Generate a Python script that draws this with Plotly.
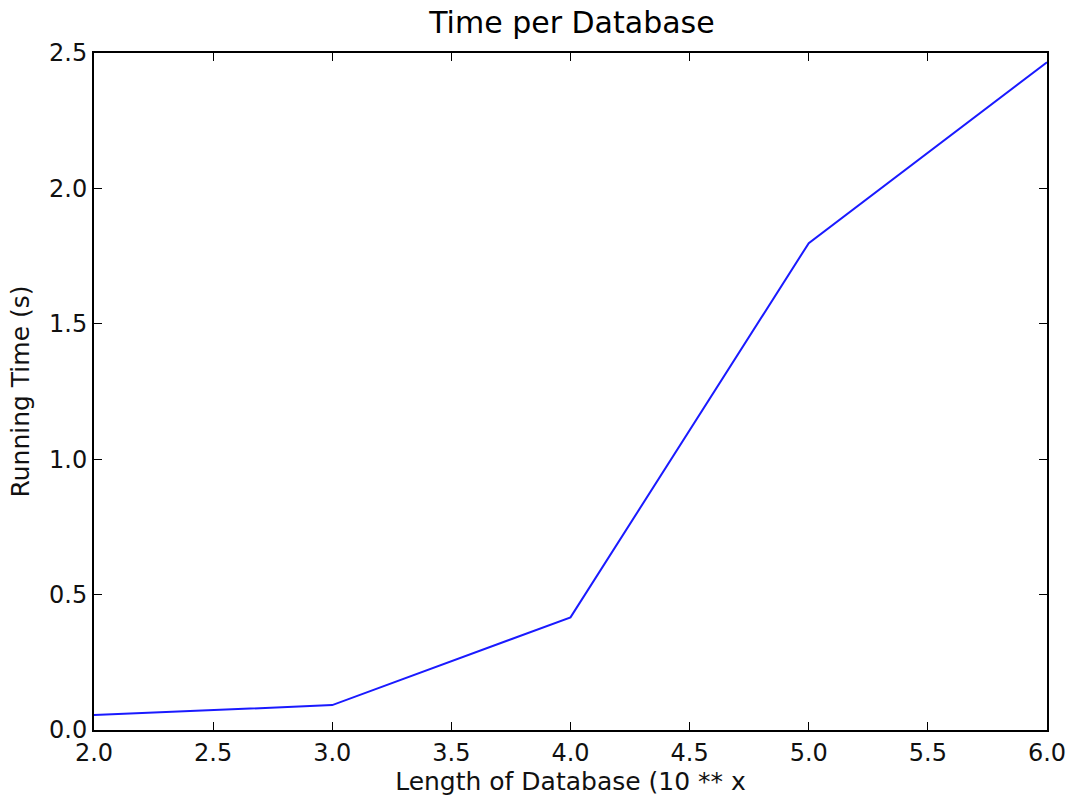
import plotly.graph_objects as go

x_vals = [2.0, 3.0, 4.0, 5.0, 6.0]
y_vals = [0.055, 0.092, 0.416, 1.798, 2.466]
x_ticks = [2.0, 2.5, 3.0, 3.5, 4.0, 4.5, 5.0, 5.5, 6.0]
y_ticks = [0.0, 0.5, 1.0, 1.5, 2.0, 2.5]

fig = go.Figure()
fig.add_trace(go.Scatter(x=x_vals, y=y_vals, mode="lines",
                         line=dict(color="#1a1aff", width=2), showlegend=False))

font = "DejaVu Sans, sans-serif"
fig.update_layout(
    width=1073, height=797, autosize=False,
    margin=dict(l=94, r=26, t=53, b=67, autoexpand=False),
    plot_bgcolor="white", paper_bgcolor="white",
    title=dict(text="Time per Database", x=0.533, xanchor="center", y=0.972, yanchor="middle",
               font=dict(family=font, size=30, color="black")),
    font=dict(family=font, color="black"),
)
fig.update_xaxes(range=[2.0, 6.0], tickvals=x_ticks, ticktext=[f"{v:.1f}" for v in x_ticks],
                 ticks="inside", ticklen=8, tickwidth=1, tickcolor="black", automargin=False,
                 showline=True, linecolor="black", linewidth=2, mirror="allticks",
                 showgrid=False, zeroline=False, tickfont=dict(size=24, family=font, color="#111"),
                 title=dict(text="Length of Database (10 ** x", font=dict(size=25, family=font, color="#111"), standoff=0))
fig.update_yaxes(range=[0.0, 2.5], tickvals=y_ticks, ticktext=[f"{v:.1f}" for v in y_ticks],
                 ticks="inside", ticklen=8, tickwidth=1, tickcolor="black", automargin=False,
                 showline=True, linecolor="black", linewidth=2, mirror="allticks",
                 showgrid=False, zeroline=False, tickfont=dict(size=24, family=font, color="#111"),
                 title=dict(text="Running Time (s)", font=dict(size=25, family=font, color="#111"), standoff=12))

fig.write_html("out.html")
